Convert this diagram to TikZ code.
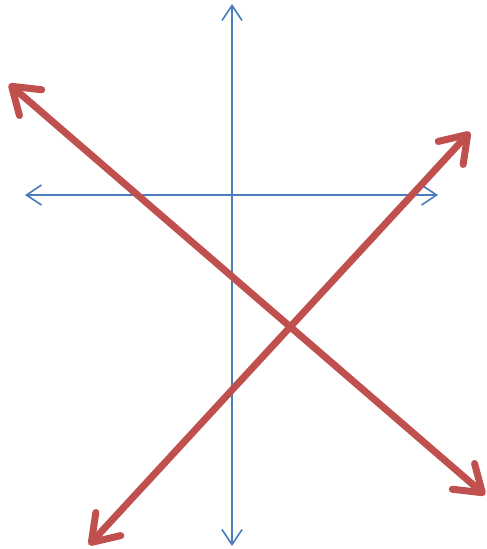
\documentclass[tikz,border=0pt]{standalone}
\usetikzlibrary{arrows.meta}
\definecolor{axisblue}{RGB}{74,126,187}
\definecolor{linered}{RGB}{192,80,77}
\begin{document}
\begin{tikzpicture}[x=1pt,y=-1pt,
  axis/.style={draw=axisblue,line width=1.6pt,{Straight Barb[length=15pt,width=20pt]}-{Straight Barb[length=15pt,width=20pt]}},
  redline/.style={draw=linered,line width=7pt,line cap=round,{Straight Barb[length=25pt,width=34pt,round]}-{Straight Barb[length=25pt,width=34pt,round]}}]
\useasboundingbox (0,0) rectangle (487,549);
\coordinate (vt) at (232,4);
\coordinate (vb) at (232,546);
\coordinate (hl) at (25,195);
\coordinate (hr) at (438,195);
\coordinate (a1) at (9,84);
\coordinate (a2) at (485,495);
\coordinate (b1) at (89,545);
\coordinate (b2) at (470,132);
\draw[axis] (vt) -- (vb);
\draw[axis] (hl) -- (hr);
\draw[redline] (a1) -- (a2);
\draw[redline] (b1) -- (b2);
\end{tikzpicture}
\end{document}
